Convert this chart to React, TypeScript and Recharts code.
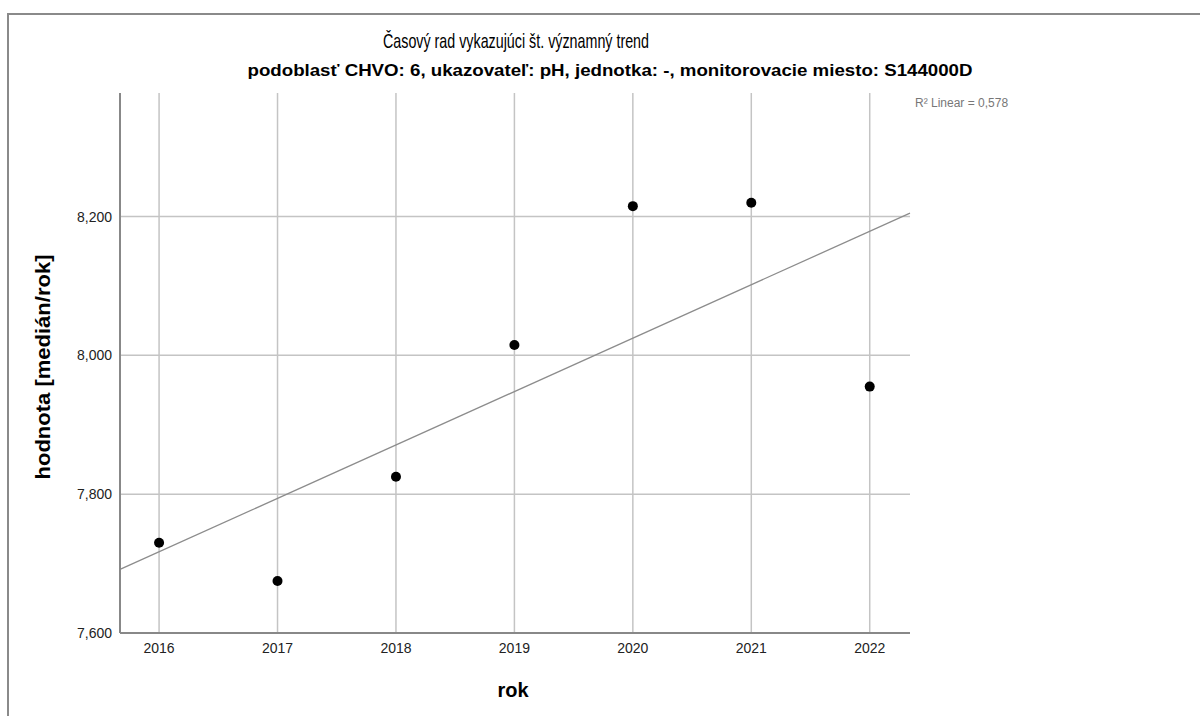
import React from 'react';
import {
  ScatterChart,
  Scatter,
  XAxis,
  YAxis,
  ReferenceLine,
} from 'recharts';

const years = [2016, 2017, 2018, 2019, 2020, 2021, 2022];
const medians = [7.73, 7.675, 7.825, 8.015, 8.215, 8.22, 7.955];
const yTicks = [7.6, 7.8, 8.0, 8.2];
const yGrid = [7.8, 8.0, 8.2];
const xDomain: [number, number] = [2015.67, 2022.34];
const yDomain: [number, number] = [7.6, 8.378];

const title = 'Časový rad vykazujúci št. významný trend';
const subtitle = 'podoblasť CHVO: 6, ukazovateľ: pH, jednotka: -, monitorovacie miesto: S144000D';
const yLabel = 'hodnota [medián/rok]';
const xLabel = 'rok';
const r2Label = 'R² Linear = 0,578';

const data = years.map((y, i) => ({ x: y, y: medians[i] }));

// least-squares linear fit drawn across the x domain
const n = years.length;
const mx = years.reduce((a, b) => a + b, 0) / n;
const my = medians.reduce((a, b) => a + b, 0) / n;
let sxy = 0;
let sxx = 0;
years.forEach((x, i) => {
  sxy += (x - mx) * (medians[i] - my);
  sxx += (x - mx) * (x - mx);
});
const slope = sxy / sxx;
const fit = (x: number) => my + slope * (x - mx);

const fmtY = (v: number) => v.toFixed(3).replace('.', ',');

const Dot = (props: any) => {
  const { cx, cy } = props;
  return <circle cx={cx} cy={cy} r={5} fill="#000" />;
};

const gridColor = '#c4c4c4';

export default function App() {
  return (
    <div style={{ position: 'absolute', left: 0, top: 0, width: 1200, height: 716, background: '#fff' }}>
      <ScatterChart
        width={1200}
        height={716}
        margin={{ top: 93, right: 290, bottom: 0, left: 0 }}
        style={{ fontFamily: 'Arial, "Liberation Sans", sans-serif' }}
      >
        {yGrid.map((t) => (
          <ReferenceLine key={'h' + t} y={t} stroke={gridColor} strokeWidth={1.5} />
        ))}
        {years.map((t) => (
          <ReferenceLine key={'v' + t} x={t} stroke={gridColor} strokeWidth={1.5} />
        ))}
        <XAxis
          type="number"
          dataKey="x"
          domain={xDomain}
          ticks={years}
          allowDataOverflow
          height={83}
          tickLine={false}
          axisLine={{ stroke: '#888', strokeWidth: 2 }}
          tick={{ fill: '#222', fontSize: 14 }}
          tickMargin={4}
        />
        <YAxis
          type="number"
          dataKey="y"
          domain={yDomain}
          ticks={yTicks}
          allowDataOverflow
          width={120}
          tickLine={false}
          axisLine={{ stroke: '#888', strokeWidth: 2 }}
          tick={{ fill: '#222', fontSize: 14 }}
          tickFormatter={fmtY}
        />
        <ReferenceLine
          segment={[
            { x: xDomain[0], y: fit(xDomain[0]) },
            { x: xDomain[1], y: fit(xDomain[1]) },
          ]}
          stroke="#8c8c8c"
          strokeWidth={1.3}
          ifOverflow="visible"
        />
        <Scatter data={data} shape={<Dot />} isAnimationActive={false} />
      </ScatterChart>
      <svg
        width={1200}
        height={716}
        style={{ position: 'absolute', left: 0, top: 0, pointerEvents: 'none' }}
      >
        <line x1={8} y1={14} x2={1200} y2={14} stroke="#8a8a8a" strokeWidth={2} />
        <line x1={8} y1={13} x2={8} y2={716} stroke="#8a8a8a" strokeWidth={2} />
        <text
          x={516}
          y={48}
          textAnchor="middle"
          fontFamily='"Liberation Sans Narrow", Arial, sans-serif'
          fontSize={21}
          fill="#000"
          textLength={266}
          lengthAdjust="spacingAndGlyphs"
        >
          {title}
        </text>
        <text
          x={610}
          y={76}
          textAnchor="middle"
          fontFamily='"Liberation Sans Narrow", Arial, sans-serif'
          fontWeight="bold"
          fontSize={16}
          fill="#000"
          textLength={725}
          lengthAdjust="spacingAndGlyphs"
        >
          {subtitle}
        </text>
        <text x={915} y={107} fontFamily="Arial, sans-serif" fontSize={12} fill="#777">
          {r2Label}
        </text>
        <text
          x={0}
          y={0}
          transform="translate(50 367) rotate(-90)"
          textAnchor="middle"
          fontFamily="Arial, sans-serif"
          fontWeight="bold"
          fontSize={20}
          fill="#000"
          textLength={225}
          lengthAdjust="spacingAndGlyphs"
        >
          {yLabel}
        </text>
        <text
          x={513}
          y={697}
          textAnchor="middle"
          fontFamily="Arial, sans-serif"
          fontWeight="bold"
          fontSize={20}
          fill="#000"
        >
          {xLabel}
        </text>
      </svg>
    </div>
  );
}
